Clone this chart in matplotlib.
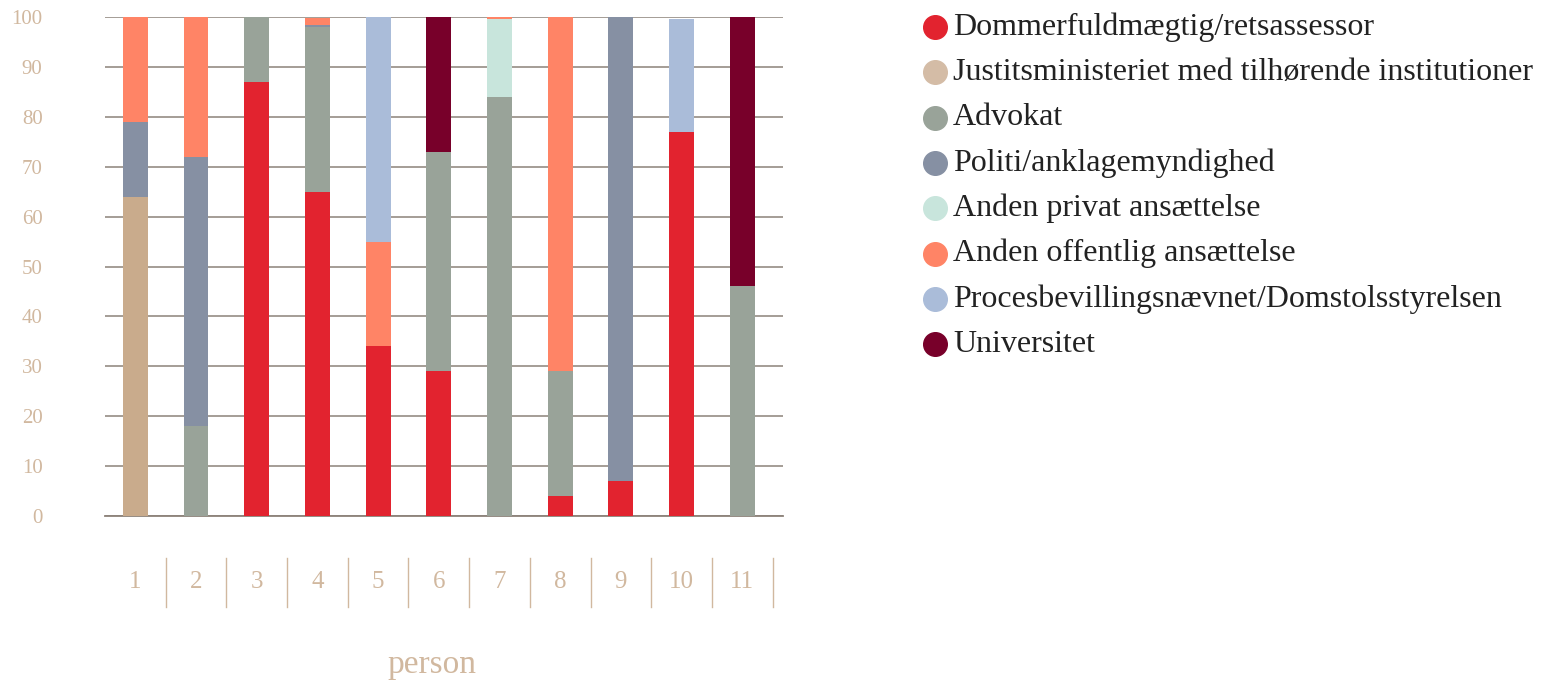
import matplotlib
matplotlib.use('Agg')
from matplotlib import pyplot as plt
from matplotlib.lines import Line2D
import matplotlib.transforms as mtransforms
import numpy as np

persons = ['1', '2', '3', '4', '5', '6', '7', '8', '9', '10', '11']
categories = ['Dommerfuldmægtig/retsassessor',
              'Justitsministeriet med tilhørende institutioner',
              'Advokat',
              'Politi/anklagemyndighed',
              'Anden privat ansættelse',
              'Anden offentlig ansættelse',
              'Procesbevillingsnævnet/Domstolsstyrelsen',
              'Universitet']

dommer = [0, 0, 87, 65, 34, 29, 0, 4, 7, 77, 0]
justits = [64, 0, 0, 0, 0, 0, 0, 0, 0, 0, 0]
advokat = [0, 18, 13, 33, 0, 44, 84, 25, 0, 0, 46]
politi = [15, 54, 0, 0.3, 0, 0, 0, 0, 93, 0, 0]
privat = [0, 0, 0, 0, 0, 0, 15.6, 0, 0, 0, 0]
offentlig = [21, 28, 0, 1.5, 21, 0, 0.4, 71, 0, 0, 0]
proces = [0, 0, 0, 0, 45, 0, 0, 0, 0, 22.5, 0]
universitet = [0, 0, 0, 0, 0, 27, 0, 0, 0, 0, 54]

series = [dommer, justits, advokat, politi, privat, offentlig, proces, universitet]
bar_colors = ['#e2232f', '#c9ab8c', '#99a399', '#8690a3', '#c8e5dc', '#ff8466', '#aabcd9', '#78002a']
legend_colors = ['#e2232f', '#d4bca6', '#99a399', '#8690a3', '#c8e5dc', '#ff8466', '#aabcd9', '#78002a']

tan = '#d1b89f'
plt.rcParams['font.family'] = ['Liberation Serif', 'DejaVu Serif']

fig = plt.figure(figsize=(15.44, 6.8), dpi=100)
ax = fig.add_axes([105 / 1544, 1 - 516 / 680, 678 / 1544, 499 / 680])

x = np.arange(len(persons))
bottom = np.zeros(len(persons))
for vals, col in zip(series, bar_colors):
    vals = np.array(vals, dtype=float)
    ax.bar(x, vals, 0.41, bottom=bottom, color=col, zorder=3, linewidth=0)
    bottom += vals

ax.set_xlim(-0.5, 10.67)
ax.set_ylim(0, 100)
ax.set_yticks(range(0, 101, 10))
ax.set_yticklabels([str(v) for v in range(0, 101, 10)], color=tan, fontsize=15)
ax.tick_params(axis='y', length=0, pad=45)
ax.set_xticks([])
ax.grid(axis='y', color='#8c8279', linewidth=1.1, zorder=0)
for s in ['top', 'right', 'left']:
    ax.spines[s].set_visible(False)
ax.spines['bottom'].set_color('#8c8279')
ax.spines['bottom'].set_linewidth(1.3)

trans = mtransforms.blended_transform_factory(ax.transData, ax.transAxes)
for i, p in enumerate(persons):
    ax.text(i, -0.132, p, transform=trans, ha='center', va='center', color=tan, fontsize=18)
    ax.add_line(Line2D([i + 0.5, i + 0.5], [-0.084, -0.182], transform=trans,
                       color=tan, linewidth=1, clip_on=False))

fig.text(432 / 1544, 1 - 665 / 680, 'person', ha='center', va='center', color=tan, fontsize=24)

# legend drawn by hand
for i, (lab, col) in enumerate(zip(categories, legend_colors)):
    yy = 1 - (27 + i * 45.3) / 680
    fig.add_artist(Line2D([935 / 1544], [yy], marker='o', markersize=17,
                          color=col, linestyle='none', transform=fig.transFigure))
    fig.text(953 / 1544, yy, lab, ha='left', va='center', color='#222222', fontsize=23)

plt.savefig('out.png', dpi=100)
